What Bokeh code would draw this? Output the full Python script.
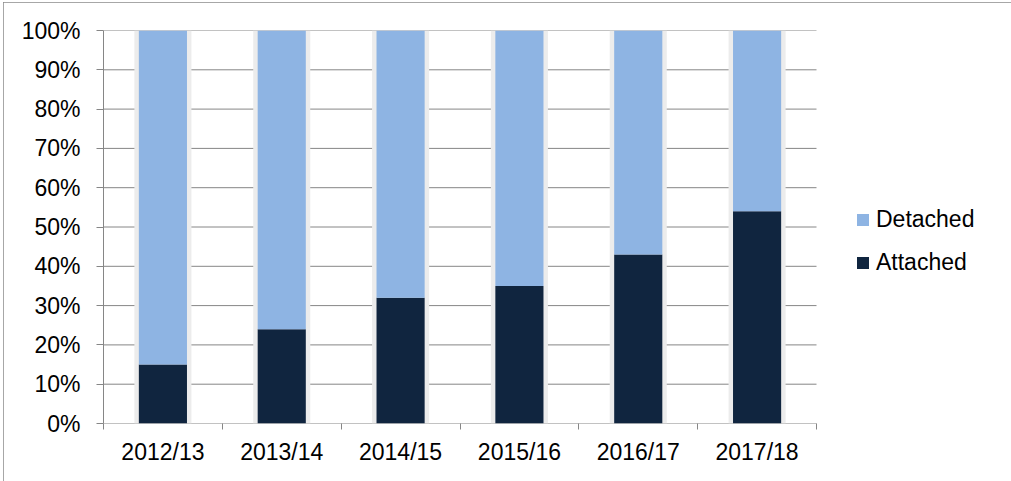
from bokeh.plotting import figure
from bokeh.models import (FixedTicker, PrintfTickFormatter, Legend, LegendItem,
                          ColumnDataSource, Range1d)
from bokeh.embed import file_html
from bokeh.resources import INLINE

seasons = ["2012/13", "2013/14", "2014/15", "2015/16", "2016/17", "2017/18"]
attached = [15, 24, 32, 35, 43, 54]
detached = [85, 76, 68, 65, 57, 46]
y_ticks = [0, 10, 20, 30, 40, 50, 60, 70, 80, 90, 100]

FONT = "Liberation Sans"
FS = "23px"
GRID = "#868686"
C_DET = "#8EB4E3"
C_ATT = "#10253F"

# layout (pixels, relative to the figure)
W, H = 1008, 479
LEFT, TOP, RIGHT, BOTTOM = 100, 28, 10, 58
PLOT_W = 713  # width of the category area in pixels
n = len(seasons)
x_end = n * (W - LEFT - RIGHT) / PLOT_W

xs = [i + 0.5 for i in range(n)]
tops = [a + d for a, d in zip(attached, detached)]
src = ColumnDataSource(dict(x=xs, att=attached, det=detached, top=tops,
                            zero=[0] * n))

p = figure(width=W, height=H, output_backend="svg", toolbar_location=None,
           x_range=Range1d(0, x_end), y_range=Range1d(0, 100),
           min_border_left=LEFT, min_border_top=TOP, min_border_right=RIGHT,
           min_border_bottom=BOTTOM)
p.outline_line_color = None
p.styles = {"outline": "1px solid #8a8a8a", "outline-offset": "-1px",
            "margin-left": "3px", "margin-top": "2px"}

# horizontal gridlines only across the category area
p.xgrid.visible = False
p.ygrid.visible = False
p.segment(x0=[0] * len(y_ticks), x1=[n] * len(y_ticks), y0=y_ticks, y1=y_ticks,
          line_color=GRID, line_width=1)

# shadow behind bars
p.vbar(x="x", width=0.48, bottom="zero", top="top", source=src,
       fill_color="#ececec", line_color=None)
r_att = p.vbar(x="x", width=0.405, bottom="zero", top="att", source=src,
               fill_color=C_ATT, line_color=None)
r_det = p.vbar(x="x", width=0.405, bottom="att", top="top", source=src,
               fill_color=C_DET, line_color=None)

# y axis
yax = p.yaxis[0]
yax.ticker = FixedTicker(ticks=y_ticks)
yax.formatter = PrintfTickFormatter(format="%d%%")
yax.axis_line_color = GRID
yax.major_tick_line_color = GRID
yax.major_tick_out = 7
yax.major_tick_in = 0
yax.minor_tick_line_color = None
yax.major_label_text_font = FONT
yax.major_label_text_font_size = FS
yax.major_label_text_color = "black"
yax.major_label_standoff = 16

# x axis
xax = p.xaxis[0]
xax.ticker = FixedTicker(ticks=xs, minor_ticks=list(range(n + 1)))
xax.major_label_overrides = {x: s for x, s in zip(xs, seasons)}
xax.axis_line_color = None
xax.major_tick_line_color = None
xax.major_tick_out = 0
xax.major_tick_in = 0
xax.minor_tick_line_color = GRID
xax.minor_tick_out = 6
xax.minor_tick_in = 0
xax.major_label_text_font = FONT
xax.major_label_text_font_size = FS
xax.major_label_text_color = "black"
xax.major_label_standoff = 9

legend = Legend(items=[LegendItem(label="Detached", renderers=[r_det]),
                       LegendItem(label="Attached", renderers=[r_att])],
                location=(752, 147), orientation="vertical",
                glyph_width=15, glyph_height=15, label_standoff=6,
                spacing=16, padding=0, margin=0,
                border_line_color=None, background_fill_alpha=0,
                label_text_font=FONT, label_text_font_size=FS,
                label_text_color="black")
p.add_layout(legend, "center")

open("out.html", "w").write(file_html(p, INLINE))
